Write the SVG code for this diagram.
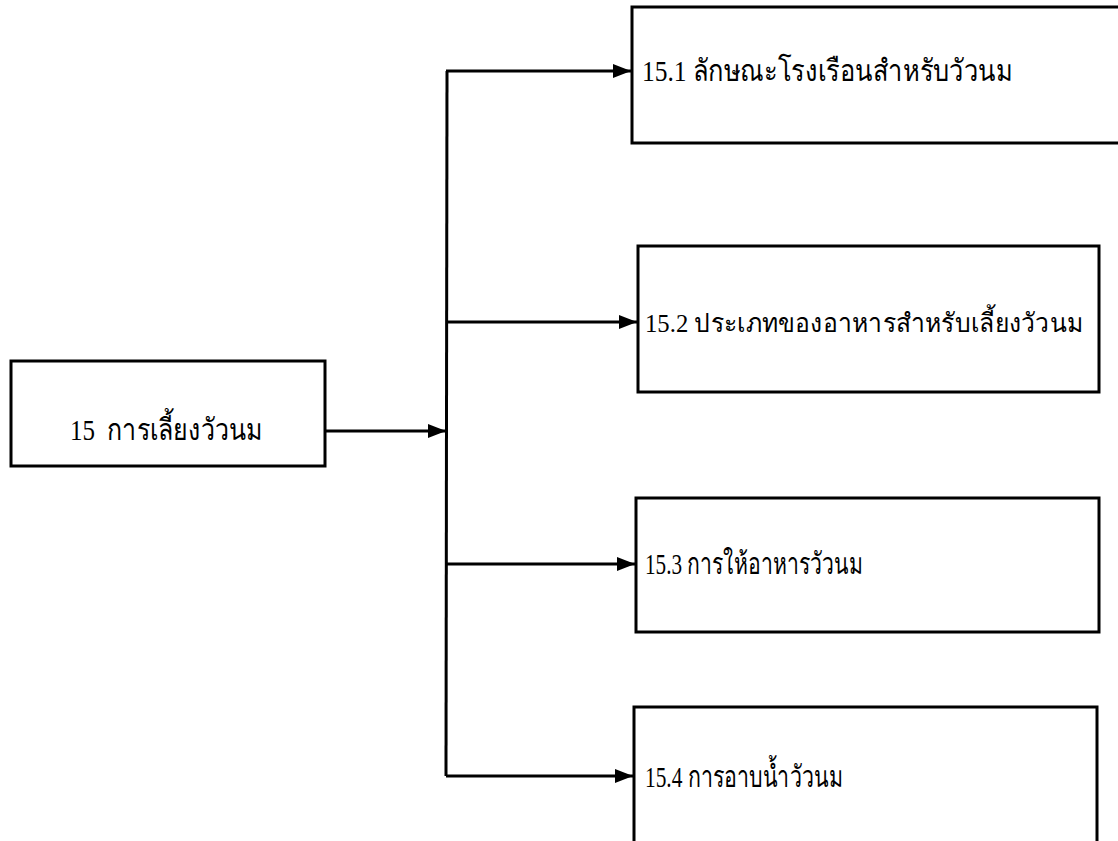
<svg xmlns="http://www.w3.org/2000/svg" width="1118" height="841" viewBox="0 0 1118 841">
<style>
.box{fill:#fff;stroke:#000;stroke-width:3}
.lbl{font-family:"Liberation Serif","Noto Sans","DejaVu Sans",serif;font-size:30px;fill:#000;white-space:pre}
.lbl2{font-size:26px}
.wire{stroke:#000;stroke-width:3;fill:none}
</style>
<defs>
<marker id="ah" viewBox="0 0 18 14" refX="18" refY="7" markerWidth="18" markerHeight="14" markerUnits="userSpaceOnUse" orient="auto">
<path d="M0,0 L18,7 L0,14 z" fill="#000"/>
</marker>
</defs>
<rect width="1118" height="841" fill="#fff"/>
<g id="connectors">
<path class="wire" d="M447,71 L446,776"/>
<path class="wire" d="M325,431 L446,431" marker-end="url(#ah)"/>
<path class="wire" d="M446,71 L631,71" marker-end="url(#ah)"/>
<path class="wire" d="M446,322 L637,322" marker-end="url(#ah)"/>
<path class="wire" d="M446,564 L635,564" marker-end="url(#ah)"/>
<path class="wire" d="M446,776 L633,776" marker-end="url(#ah)"/>
</g>
<g id="n15"><rect class="box" x="11" y="361" width="314" height="105"/><text class="lbl" x="70" y="440" xml:space="preserve" textLength="193" lengthAdjust="spacingAndGlyphs">15  การเลี้ยงวัวนม</text></g>
<g id="n15_1"><rect class="box" x="632" y="7" width="500" height="136"/><text class="lbl" x="642" y="81" textLength="371" lengthAdjust="spacingAndGlyphs">15.1 ลักษณะโรงเรือนสำหรับวัวนม</text></g>
<g id="n15_2"><rect class="box" x="638" y="246" width="461" height="146"/><text class="lbl lbl2" x="645" y="332" textLength="438" lengthAdjust="spacingAndGlyphs">15.2 ประเภทของอาหารสำหรับเลี้ยงวัวนม</text></g>
<g id="n15_3"><rect class="box" x="636" y="498" width="463" height="134"/><text class="lbl" x="645" y="574" textLength="218" lengthAdjust="spacingAndGlyphs">15.3 การให้อาหารวัวนม</text></g>
<g id="n15_4"><rect class="box" x="634" y="707" width="463" height="200"/><text class="lbl" x="645" y="787" textLength="198" lengthAdjust="spacingAndGlyphs">15.4 การอาบน้ำวัวนม</text></g>
</svg>
